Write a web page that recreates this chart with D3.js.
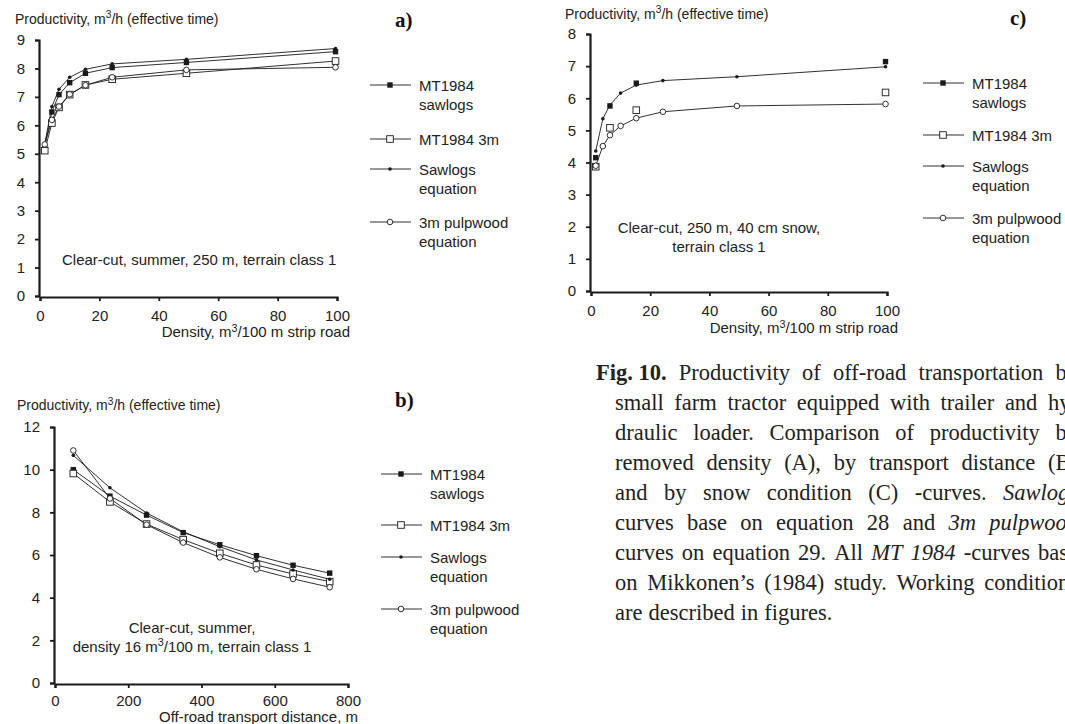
<!DOCTYPE html>
<html>
<head>
<meta charset="utf-8">
<script src="https://cdn.jsdelivr.net/npm/d3@7"></script>
<style>
  body { margin: 0; background: #fff; }
  svg { display: block; }
  .chart text { font-family: "Liberation Sans", Arial, sans-serif; fill: #222; }
  .caption text { font-family: "Liberation Serif", "Times New Roman", serif; fill: #222; }
</style>
</head>
<body>
<div id="container"></div>
<script>
// Densidades (m3/100 m) e distancias (m)
const densities = [1.6, 4, 6.4, 10, 15.3, 24.3, 49.3, 99.5];
const densitiesMT = [1.6, 6.4, 15.3, 99.5];
const distances = [50, 150, 250, 350, 450, 550, 650, 750];

// a) densidade, verao
const mtSawA = [5.25, 6.47, 7.08, 7.50, 7.83, 8.03, 8.21, 8.59];
const mt3mA = [5.11, 6.08, 6.63, 7.08, 7.42, 7.62, 7.83, 8.26];
const sawEqA = [5.36, 6.66, 7.27, 7.69, 7.97, 8.16, 8.32, 8.70];
const pulpEqA = [5.33, 6.19, 6.66, 7.09, 7.41, 7.69, 7.95, 8.04];

// b) distancia de transporte
const mtSawB = [10.0, 8.76, 7.87, 7.05, 6.48, 5.97, 5.52, 5.15];
const mt3mB = [9.82, 8.49, 7.45, 6.72, 6.08, 5.53, 5.11, 4.75];
const sawEqB = [10.67, 9.15, 7.97, 7.09, 6.39, 5.77, 5.30, 4.86];
const pulpEqB = [10.9, 8.65, 7.42, 6.58, 5.89, 5.33, 4.88, 4.49];

// c) neve 40 cm
const mtSawC = [4.15, 5.76, 6.47, 7.14];
const mt3mC = [3.87, 5.08, 5.63, 6.18];
const sawEqC = [4.36, 5.36, 5.79, 6.16, 6.41, 6.55, 6.67, 6.98];
const pulpEqC = [3.90, 4.51, 4.85, 5.14, 5.38, 5.58, 5.76, 5.82];

const xTicksDensity = [0, 20, 40, 60, 80, 100];
const xTicksDistance = [0, 200, 400, 600, 800];

const legendLabels = [
  ['MT1984', 'sawlogs'],
  ['MT1984 3m'],
  ['Sawlogs', 'equation'],
  ['3m pulpwood', 'equation'],
];
const markerTypes = ['fsquare', 'osquare', 'dot', 'ocircle'];

const captionLines = [
  [{ t: 'Fig. 10.', b: true }, 'Productivity', 'of', 'off-road', 'transportation', 'by'],
  ['small', 'farm', 'tractor', 'equipped', 'with', 'trailer', 'and', 'hy-'],
  ['draulic', 'loader.', 'Comparison', 'of', 'productivity', 'by'],
  ['removed', 'density', '(A),', 'by', 'transport', 'distance', '(B)'],
  ['and', 'by', 'snow', 'condition', '(C)', '-curves.', { t: 'Sawlogs', i: true }],
  ['curves', 'base', 'on', 'equation', '28', 'and', { t: '3m', i: true }, { t: 'pulpwood', i: true }],
  ['curves', 'on', 'equation', '29.', 'All', { t: 'MT', i: true }, { t: '1984', i: true }, '-curves', 'base'],
  ['on', 'Mikkonen\u2019s', '(1984)', 'study.', 'Working', 'conditions'],
  ['are', 'described', 'in', 'figures.'],
];

const W = 1065, H = 724;
const svg = d3.select('#container').append('svg')
  .attr('width', W).attr('height', H).attr('viewBox', `0 0 ${W} ${H}`);

const ink = '#1a1a1a';
const fs = 15;

function drawMarker(g, type, cx, cy) {
  if (type === 'fsquare') {
    g.append('rect').attr('x', cx - 2.7).attr('y', cy - 2.7).attr('width', 5.4).attr('height', 5.4)
      .attr('fill', ink);
  } else if (type === 'osquare') {
    g.append('rect').attr('x', cx - 3.3).attr('y', cy - 3.3).attr('width', 6.6).attr('height', 6.6)
      .attr('fill', '#fff').attr('stroke', ink).attr('stroke-width', 0.9);
  } else if (type === 'dot') {
    g.append('circle').attr('cx', cx).attr('cy', cy).attr('r', 1.8).attr('fill', ink);
  } else {
    g.append('circle').attr('cx', cx).attr('cy', cy).attr('r', 2.8)
      .attr('fill', '#fff').attr('stroke', ink).attr('stroke-width', 0.9);
  }
}

// superscrito m3
function unitText(sel, before, after) {
  sel.append('tspan').text(before + 'm');
  sel.append('tspan').attr('dy', -5.5).attr('font-size', '0.72em').text('3');
  sel.append('tspan').attr('dy', 5.5).text(after);
}

function drawPanel(cfg) {
  const g = svg.append('g').attr('class', 'chart');
  const x = d3.scaleLinear().domain(cfg.xDomain).range(cfg.xRange);
  const y = d3.scaleLinear().domain(cfg.yDomain).range(cfg.yRange);

  // eixos
  const yAxis = g.append('g').attr('transform', `translate(${cfg.xRange[0] - 1},0)`)
    .call(d3.axisLeft(y).tickValues(d3.range(cfg.yDomain[0], cfg.yDomain[1] + 1, cfg.yStep))
      .tickSize(4).tickPadding(10));
  const xAxis = g.append('g').attr('transform', `translate(0,${cfg.yRange[0] + 1})`)
    .call(d3.axisBottom(x).tickValues(cfg.xTicks).tickSize(4).tickPadding(cfg.xPad));
  [xAxis, yAxis].forEach(a => {
    a.select('.domain').attr('stroke', ink).attr('stroke-width', 2.2);
    a.selectAll('.tick line').attr('stroke', ink).attr('stroke-width', 1.8);
    a.selectAll('.tick text').attr('font-size', fs).attr('fill', '#222')
      .attr('font-family', '"Liberation Sans", Arial, sans-serif');
  });

  const line = d3.line().x(d => x(d[0])).y(d => y(d[1]));

  cfg.series.forEach((s) => {
    const pts = s.xs.map((v, k) => [v, s.ys[k]]);
    if (s.line) {
      g.append('path').attr('d', line(pts)).attr('fill', 'none')
        .attr('stroke', ink).attr('stroke-width', 0.9);
    }
  });
  cfg.series.forEach((s, i) => {
    const mg = g.append('g');
    s.xs.forEach((v, k) => drawMarker(mg, markerTypes[i], x(v), y(s.ys[k])));
  });

  // titulo do eixo y
  unitText(g.append('text').attr('x', cfg.title[0]).attr('y', cfg.title[1]).attr('font-size', 14),
    'Productivity, ', '/h (effective time)');

  // titulo do eixo x
  const xt = g.append('text').attr('x', cfg.xTitle[0]).attr('y', cfg.xTitle[1])
    .attr('text-anchor', 'end').attr('font-size', fs);
  if (cfg.xTitleUnit) unitText(xt, 'Density, ', '/100 m strip road');
  else xt.text('Off-road transport distance, m');

  // anotacao
  cfg.note.lines.forEach((ln, k) => {
    const t = g.append('text').attr('x', cfg.note.x).attr('y', cfg.note.y + k * 18.5)
      .attr('text-anchor', cfg.note.anchor).attr('font-size', fs);
    if (ln.unit) unitText(t, ln.unit[0], ln.unit[1]);
    else t.text(ln);
  });

  // letra do painel
  svg.append('text').attr('x', cfg.letter[0]).attr('y', cfg.letter[1])
    .attr('font-family', '"Liberation Serif", "Times New Roman", serif')
    .attr('font-weight', 'bold').attr('font-size', 21).attr('fill', '#111')
    .text(cfg.letter[2]);

  // legenda
  const lg = g.append('g');
  cfg.legend.ys.forEach((ly, i) => {
    const x0 = cfg.legend.x;
    lg.append('line').attr('x1', x0).attr('x2', x0 + 41).attr('y1', ly).attr('y2', ly)
      .attr('stroke', ink).attr('stroke-width', 0.9);
    drawMarker(lg, markerTypes[i], x0 + 20, ly);
    legendLabels[i].forEach((txt, k) => {
      lg.append('text').attr('x', x0 + 49).attr('y', ly + 5.5 + k * 19)
        .attr('font-size', fs).text(txt);
    });
  });
}

drawPanel({
  xDomain: [0, 100], xRange: [40, 337], yDomain: [0, 9], yRange: [296, 40], yStep: 1,
  xTicks: xTicksDensity, xPad: 9,
  series: [
    { xs: densities, ys: mtSawA, line: true },
    { xs: densities, ys: mt3mA, line: true },
    { xs: densities, ys: sawEqA, line: true },
    { xs: densities, ys: pulpEqA, line: true },
  ],
  title: [15, 23.5], xTitle: [350, 337], xTitleUnit: true,
  note: { x: 62, y: 265, anchor: 'start', lines: ['Clear-cut, summer, 250 m, terrain class 1'] },
  letter: [395, 27, 'a)'],
  legend: { x: 370, ys: [85, 139, 169, 222] },
});

drawPanel({
  xDomain: [0, 800], xRange: [55, 348], yDomain: [0, 12], yRange: [683, 427], yStep: 2,
  xTicks: xTicksDistance, xPad: 7,
  series: [
    { xs: distances, ys: mtSawB, line: true },
    { xs: distances, ys: mt3mB, line: true },
    { xs: distances, ys: sawEqB, line: true },
    { xs: distances, ys: pulpEqB, line: true },
  ],
  title: [17, 410], xTitle: [358, 721.5], xTitleUnit: false,
  note: { x: 192, y: 633, anchor: 'middle', lines: ['Clear-cut, summer,', { unit: ['density 16 ', '/100 m, terrain class 1'] }] },
  letter: [395, 407, 'b)'],
  legend: { x: 381, ys: [474, 525, 557, 609] },
});

drawPanel({
  xDomain: [0, 100], xRange: [591, 887], yDomain: [0, 8], yRange: [291, 34], yStep: 1,
  xTicks: xTicksDensity, xPad: 9,
  series: [
    { xs: densitiesMT, ys: mtSawC, line: false },
    { xs: densitiesMT, ys: mt3mC, line: false },
    { xs: densities, ys: sawEqC, line: true },
    { xs: densities, ys: pulpEqC, line: true },
  ],
  title: [565, 18.5], xTitle: [898, 333], xTitleUnit: true,
  note: { x: 719, y: 233, anchor: 'middle', lines: ['Clear-cut, 250 m, 40 cm snow,', 'terrain class 1'] },
  letter: [1010, 25, 'c)'],
  legend: { x: 923, ys: [83, 135, 166, 218] },
});

// legenda da figura, justificada
const cap = svg.append('g').attr('class', 'caption');
const capRight = 1078;
captionLines.forEach((words, li) => {
  const x0 = li === 0 ? 596 : 615;
  const yy = 380 + li * 30;
  const nodes = words.map(w => {
    const o = typeof w === 'string' ? { t: w } : w;
    return cap.append('text').attr('y', yy).attr('font-size', 22.5)
      .attr('font-weight', o.b ? 'bold' : null)
      .attr('font-style', o.i ? 'italic' : null)
      .text(o.t);
  });
  const widths = nodes.map(n => n.node().getComputedTextLength());
  const total = d3.sum(widths);
  const last = li === captionLines.length - 1;
  const gap = last ? 6 : (capRight - x0 - total) / (nodes.length - 1);
  let cx = x0;
  nodes.forEach((n, k) => { n.attr('x', cx); cx += widths[k] + gap; });
});
</script>
</body>
</html>
